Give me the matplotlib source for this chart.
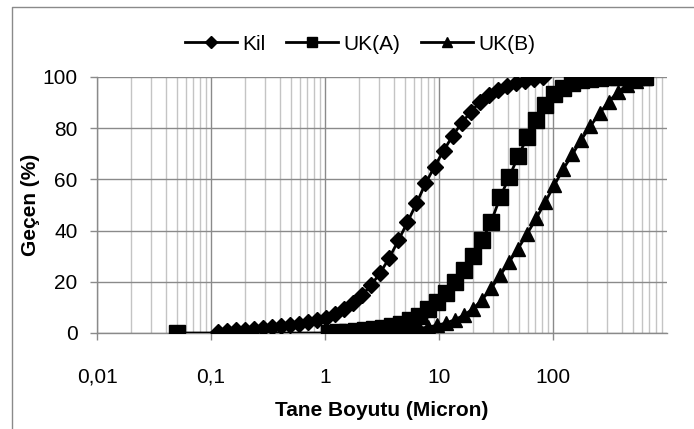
import matplotlib
matplotlib.use("Agg")
import matplotlib.pyplot as plt
from matplotlib.lines import Line2D
from matplotlib.ticker import FixedLocator, NullFormatter

plt.rcParams['font.family'] = ['Liberation Sans', 'DejaVu Sans']

# particle size (micron) and cumulative passing (%)
kil_x = [0.115, 0.138, 0.166, 0.199, 0.238, 0.286, 0.343, 0.412, 0.494, 0.593,
         0.712, 0.854, 1.02, 1.23, 1.48, 1.77, 2.12, 2.55, 3.06, 3.67,
         4.41, 5.29, 6.34, 7.61, 9.14, 10.97, 13.16, 15.79, 18.95, 22.7,
         27.3, 32.7, 39.3, 47.2, 56.6, 67.9, 81.5]
kil_y = [0.3, 0.6, 1.0, 1.3, 1.6, 1.9, 2.2, 2.6, 3.1, 3.6,
         4.2, 5.0, 5.9, 7.3, 9.3, 11.8, 14.8, 18.8, 23.6, 29.4,
         36.2, 43.3, 50.6, 58.4, 65.0, 71.2, 77.0, 82.0, 86.3, 90.1,
         92.8, 94.8, 96.4, 97.6, 98.5, 99.3, 100.0]

uk_x = [1.08, 1.30, 1.55, 1.86, 2.23, 2.68, 3.22, 3.86, 4.63, 5.56,
        6.67, 8.0, 9.6, 11.5, 13.8, 16.6, 19.9, 23.9, 28.7, 34.4,
        41.3, 49.5, 59.4, 71.3, 85.6, 102.7, 123, 148, 177, 213,
        256, 307, 368, 442, 531, 637]
uka_x = [0.05] + uk_x
uka_y = [0.0, 0.0, 0.2, 0.4, 0.7, 1.0, 1.4, 2.0, 2.7, 3.7, 5.0,
         6.8, 9.2, 12.2, 15.8, 20.0, 24.8, 30.0, 36.2, 43.5, 53.0,
         61.0, 69.0, 76.5, 83.3, 89.0, 93.2, 95.6, 97.6, 98.8, 99.4,
         99.7, 99.9, 100, 100, 100, 100]
ukb_y = [0.0, 0.1, 0.2, 0.3, 0.4, 0.5, 0.7, 0.9, 1.1, 1.4,
         1.8, 2.3, 3.0, 3.9, 5.2, 7.0, 9.5, 13.0, 17.5, 22.5,
         27.8, 33.0, 38.8, 44.8, 51.2, 57.8, 64.0, 69.8, 75.5, 80.8,
         85.8, 90.3, 94.0, 96.8, 98.6, 99.7]

xticks = [0.01, 0.1, 1, 10, 100]
xticklabels = ['0,01', '0,1', '1', '10', '100']
yticks = [0, 20, 40, 60, 80, 100]

fig = plt.figure(figsize=(6.94, 4.29), dpi=100)
ax = fig.add_axes([97/694, 1-333/429, 570/694, 256/429])

ax.plot(kil_x, kil_y, '-D', color='black', lw=2, ms=8.5, label='Kil', zorder=5)
ax.plot(uka_x, uka_y, '-s', color='black', lw=2, ms=11, label='UK(A)', zorder=4)
ax.plot(uk_x, ukb_y, '-^', color='black', lw=2, ms=10, label='UK(B)', zorder=3)

ax.set_xscale('log')
ax.set_xlim(0.01, 1000)
ax.set_ylim(0, 100)
ax.xaxis.set_major_locator(FixedLocator(xticks))
ax.set_xticklabels(xticklabels)
minors = [m * 10.0**e for e in range(-2, 3) for m in range(2, 10)]
ax.xaxis.set_minor_locator(FixedLocator(minors))
ax.xaxis.set_minor_formatter(NullFormatter())
ax.set_yticks(yticks)

ax.grid(which='major', color='#8a8a8a', lw=1)
ax.grid(which='minor', axis='x', color='#c4c4c4', lw=1)
ax.set_axisbelow(True)
for s in ['top', 'right']:
    ax.spines[s].set_visible(False)
for s in ['left', 'bottom']:
    ax.spines[s].set_color('#8a8a8a')
    ax.spines[s].set_linewidth(1)

ax.tick_params(axis='both', which='major', labelsize=15, color='#8a8a8a', length=5, width=1)
ax.tick_params(axis='x', which='major', pad=20)
ax.tick_params(axis='y', which='major', pad=9)
ax.tick_params(axis='x', which='minor', length=0)

ax.set_xlabel('Tane Boyutu (Micron)', fontsize=15, fontweight='bold', labelpad=10)
ax.set_ylabel('Geçen (%)', fontsize=15, fontweight='bold', labelpad=2)

fig.legend(loc='center', bbox_to_anchor=(0.519, 0.897), ncol=3, frameon=False,
           fontsize=15, handlelength=2.5, handletextpad=0.25, columnspacing=1.0,
           markerscale=0.7)

# chart area border (cropped at right and bottom)
fig.add_artist(Line2D([12/694, 12/694, 1], [0, 1-7/429, 1-7/429],
                      transform=fig.transFigure, color='#8a8a8a', lw=1))

fig.savefig('out.png', dpi=100)
